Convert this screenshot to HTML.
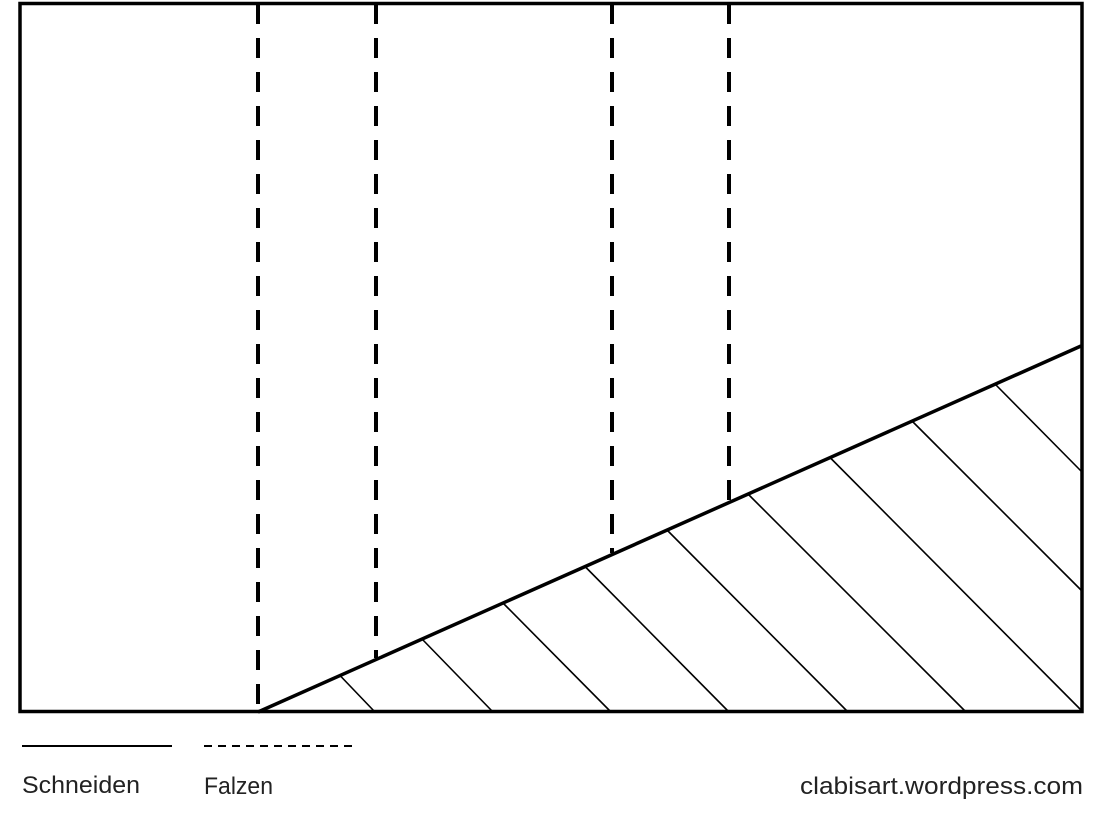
<!DOCTYPE html>
<html><head><meta charset="utf-8"><style>
html,body{margin:0;padding:0;background:#fff;width:1120px;height:815px;overflow:hidden}
svg{display:block}
text{font-family:"Liberation Sans",sans-serif;font-size:24px;fill:#222}
</style></head><body>
<svg width="1120" height="815" viewBox="0 0 1120 815">
<rect x="20" y="3.5" width="1062" height="708" fill="none" stroke="#000" stroke-width="3.5"/>
<g stroke="#000" stroke-width="4" stroke-dasharray="20 14">
<line x1="258" y1="4" x2="258" y2="711"/>
<line x1="376" y1="4" x2="376" y2="658"/>
<line x1="612" y1="4" x2="612" y2="553"/>
<line x1="729" y1="4" x2="729" y2="501"/>
</g>
<line x1="258" y1="712" x2="1081" y2="346" stroke="#000" stroke-width="3.5"/>
<g stroke="#000" stroke-width="1.6">
<line x1="340" y1="675.5" x2="374" y2="711"/>
<line x1="422" y1="639" x2="492" y2="711"/>
<line x1="503" y1="603" x2="610" y2="711"/>
<line x1="585" y1="566.5" x2="728" y2="711"/>
<line x1="667" y1="530" x2="847" y2="711"/>
<line x1="748" y1="494" x2="965" y2="711"/>
<line x1="830" y1="457.5" x2="1082" y2="711"/>
<line x1="912" y1="421" x2="1081" y2="590"/>
<line x1="995" y1="384" x2="1081" y2="471"/>
</g>
<line x1="22" y1="746" x2="172" y2="746" stroke="#000" stroke-width="2"/>
<line x1="204" y1="746" x2="352" y2="746" stroke="#000" stroke-width="2" stroke-dasharray="8 6"/>
<text x="22" y="793" textLength="118" lengthAdjust="spacingAndGlyphs">Schneiden</text>
<text x="204" y="794" textLength="69" lengthAdjust="spacingAndGlyphs">Falzen</text>
<text x="800" y="794" textLength="283" lengthAdjust="spacingAndGlyphs">clabisart.wordpress.com</text>
</svg>
</body></html>
